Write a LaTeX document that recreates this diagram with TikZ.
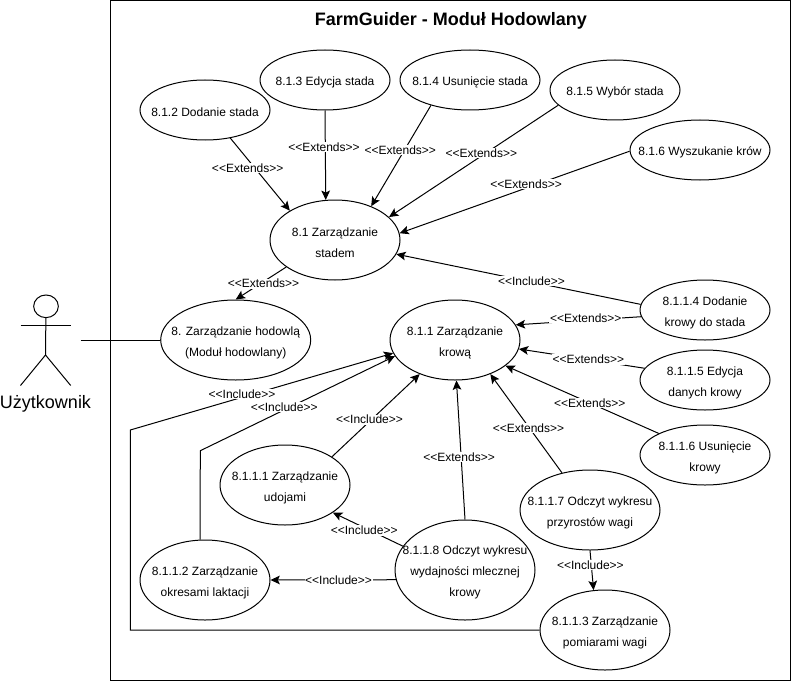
\documentclass[tikz,border=0pt]{standalone}
\usepackage{fontspec}
\setmainfont{Liberation Sans}
\newfontfamily\lblfont{Liberation Sans}
\usetikzlibrary{arrows.meta}
\usetikzlibrary{shapes.geometric}
\tikzset{
    ucase/.style 2 args = {ellipse, draw=black, align=center, inner sep=-12pt, font=\fontsize{9}{15.75}\selectfont, minimum width=#1*0.75pt, minimum height=#2*0.75pt, execute at begin node={\rule{0pt}{10pt}}},
    rowstwo/.style = {execute at begin node={\rule{0pt}{26pt}}},
    rowsthree/.style = {execute at begin node={\rule{0pt}{42pt}}},
    lbl/.style = {fill=white, inner sep=0.5pt, font=\lblfont\fontsize{9}{11}\selectfont},
    edgea/.style = {-{Stealth[length=7pt,width=6.5pt,inset=1.5pt]}},
}
\begin{document}
\begin{tikzpicture}[x=0.75pt, y=-0.75pt, line width=0.75pt]
\useasboundingbox (0,0) rectangle (791,681);
\draw (110.5,0.5) rectangle (790.3,680.3);
\node[font=\bfseries\fontsize{13.5}{16}\selectfont] at (450.8,20.7) (title) {FarmGuider - Moduł Hodowlany};
% actor
\node[ellipse, draw=black, inner sep=0pt, minimum width=18.5pt, minimum height=17pt] at (46,306.3) (head) {};
\coordinate (arml) at (20.5,325.3);
\coordinate (armr) at (70.7,325.3);
\coordinate (hip) at (45.5,355);
\coordinate (legl) at (20.5,385.5);
\coordinate (legr) at (70.7,385.5);
\coordinate (usr) at (80.5,340);
\node[font=\fontsize{13.5}{16}\selectfont] at (45.5,403.5) (actor) {Użytkownik};
\draw (head) -- (hip);
\draw (arml) -- (armr);
\draw (legl) -- (hip) -- (legr);
% use cases
\node[ucase={130}{60}] at (205,110) (e812) {8.1.2 Dodanie stada};
\node[ucase={130}{60}] at (325,80) (e813) {8.1.3 Edycja stada};
\node[ucase={140}{60}] at (470,80) (e814) {8.1.4 Usunięcie stada};
\node[ucase={130}{60}] at (615,90) (e815) {8.1.5 Wybór stada};
\node[ucase={140}{60}] at (700,150) (e816) {8.1.6 Wyszukanie krów};
\node[ucase={130}{80},rowstwo] at (335,240) (e81) {8.1 Zarządzanie\\stadem};
\node[ucase={150}{80},rowstwo] at (235.7,340) (e8) {8. Zarządzanie hodowlą\\(Moduł hodowlany)};
\node[ucase={130}{80},rowstwo] at (455,340) (e811) {8.1.1 Zarządzanie\\krową};
\node[ucase={130}{60},rowstwo] at (705,310) (e8114) {8.1.1.4 Dodanie\\krowy do stada};
\node[ucase={130}{60},rowstwo] at (705,380) (e8115) {8.1.1.5 Edycja\\danych krowy};
\node[ucase={130}{60},rowstwo] at (705,455) (e8116) {8.1.1.6 Usunięcie\\krowy};
\node[ucase={140}{80},rowstwo] at (590,510) (e8117) {8.1.1.7 Odczyt wykresu\\przyrostów wagi};
\node[ucase={140}{100},rowsthree] at (465,570) (e8118) {8.1.1.8 Odczyt wykresu\\wydajności mlecznej\\krowy};
\node[ucase={130}{80},rowstwo] at (605,630) (e8113) {8.1.1.3 Zarządzanie\\pomiarami wagi};
\node[ucase={130}{80},rowstwo] at (285,485) (e8111) {8.1.1.1 Zarządzanie\\udojami};
\node[ucase={130}{80},rowstwo] at (205,580) (e8112) {8.1.1.2 Zarządzanie\\okresami laktacji};
% bends
\coordinate (bendc) at (130.3,630);
\coordinate (bendd) at (130.3,430);
\coordinate (bende) at (200.3,450.7);
%
\draw (usr) -- (e8.west);
%
\draw[edgea] (e812.-48.5) -- node[lbl,pos=0.415,xshift=-5.5pt] {<<Extends>>} (e81.147.8);
\draw[edgea] (e813.-90) -- node[lbl,pos=0.41,xshift=-1pt] {<<Extends>>} (e81.103);
\draw[edgea] (e814.213) -- node[lbl,pos=0.424,xshift=-4pt,yshift=-1.5pt] {<<Extends>>} (e81.43.9);
\draw[edgea] (e815.195) -- node[lbl,pos=0.454,yshift=2.2pt] {<<Extends>>} (e81.23.1);
\draw[edgea] (e816.181) -- node[lbl,pos=0.45,yshift=3pt] {<<Extends>>} (e81.6.7);
\draw[edgea] (e8114.175) -- node[lbl,pos=0.447,yshift=0.8pt] {<<Include>>} (e81.-13.5);
\draw[edgea] (e81.209.6) -- node[lbl,pos=0.45,yshift=-1.5pt] {<<Extends>>} (e8.90);
%
\draw[edgea] (e8114.186.6) -- node[lbl,pos=0.452,xshift=1pt,yshift=2pt] {<<Extends>>} (e811.14.4);
\draw[edgea] (e8115.169.3) -- node[lbl,pos=0.458,xshift=1pt] {<<Extends>>} (e811.-8.3);
\draw[edgea] (e8116.155.3) -- node[lbl,pos=0.45] {<<Extends>>} (e811.-27.9);
\draw[edgea] (e8117.127.6) -- node[lbl,pos=0.468,yshift=-1pt] {<<Extends>>} (e811.-44);
\draw[edgea] (e8118.90) -- node[lbl,pos=0.458,xshift=-1.5pt,yshift=-1pt] {<<Extends>>} (e811.-88.6);
\draw[edgea] (e8111.31.3) -- node[lbl,pos=0.474,xshift=-3pt,yshift=-1.5pt] {<<Include>>} (e811.-136.3);
%
\draw[edgea] (e8118.159.5) -- node[lbl,pos=0.495,xshift=-3pt,yshift=-0.7pt] {<<Include>>} (e8111.-30.9);
\draw[edgea] (e8118.188.2) -- node[lbl,pos=0.457] {<<Include>>} (e8112.0);
\draw[edgea] (e8117.-90) -- node[lbl,pos=0.37,xshift=-0.7pt] {<<Include>>} (e8113.106.3);
%
\draw[edgea] (e8113.west) -- (bendc) -- (bendd) -- node[lbl,pos=0.433,xshift=-1.5pt,yshift=2.2pt] {<<Include>>} (e811.-168.7);
\draw[edgea] (e8112.97.6) -- (bende) -- node[lbl,pos=0.431,yshift=2.2pt] {<<Include>>} (e811.-165.2);
\end{tikzpicture}
\end{document}
